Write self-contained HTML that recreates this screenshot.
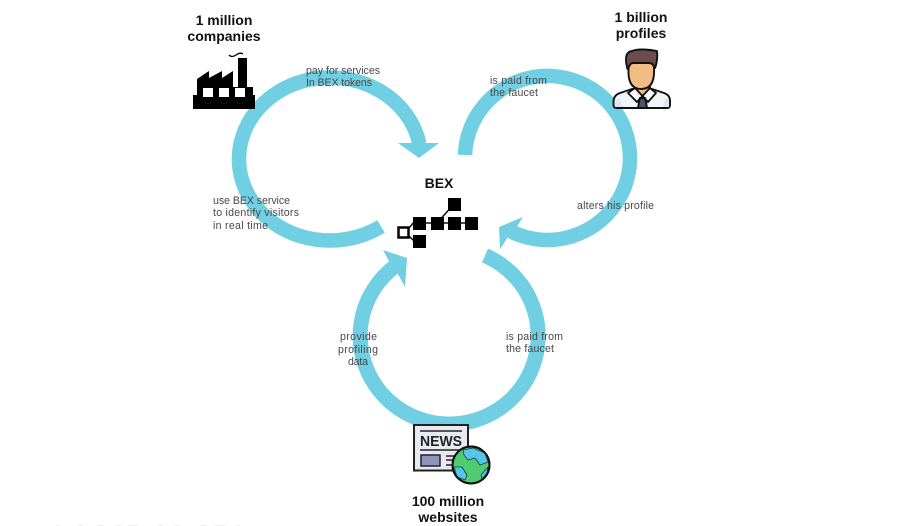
<!DOCTYPE html>
<html>
<head>
<meta charset="utf-8">
<style>
html,body{margin:0;padding:0;background:#fff;width:900px;height:526px;overflow:hidden}
svg{display:block}
text{font-family:"Liberation Sans",sans-serif}
.h{font-size:14px;font-weight:bold;fill:#111;text-anchor:middle}
.l{font-size:10.6px;fill:#484848}
.c{text-anchor:middle}
</style>
</head>
<body>
<svg width="900" height="526" viewBox="0 0 900 526" xmlns="http://www.w3.org/2000/svg">
<!-- arcs -->
<g fill="none" stroke="#70cfe2" stroke-width="14.5">
<path d="M381 226.500 A91 81.500 0 1 1 419.400 144"/>
<path d="M465 155 A82.500 82 0 1 1 511 231.500"/>
<path d="M485 255.500 A89 88 0 1 1 394 267" stroke-width="15"/>
</g>
<g fill="#70cfe2">
<polygon points="398,143 439,143 419,158"/>
<polygon points="523,217 499,227 500,249 508,237 516,228"/>
<polygon points="383,250 407,258 405,287 398,274 390,263"/>
</g>
<!-- labels -->
<text x="306" y="74" class="l" textLength="74" lengthAdjust="spacing">pay for services</text>
<text x="306" y="86" class="l" textLength="66" lengthAdjust="spacing">In BEX tokens</text>
<text x="490" y="84" class="l" textLength="57" lengthAdjust="spacing">is paid from</text>
<text x="490" y="96" class="l" textLength="48" lengthAdjust="spacing">the faucet</text>
<text x="577" y="209" class="l" textLength="77" lengthAdjust="spacing">alters his profile</text>
<text x="213" y="204" class="l" textLength="77" lengthAdjust="spacing">use BEX service</text>
<text x="213" y="216" class="l" textLength="86" lengthAdjust="spacing">to identify visitors</text>
<text x="213" y="229" class="l" textLength="55" lengthAdjust="spacing">in real time</text>
<text x="340" y="340" class="l" textLength="37" lengthAdjust="spacing">provide</text>
<text x="338" y="353" class="l" textLength="40" lengthAdjust="spacing">profiling</text>
<text x="348" y="365" class="l" textLength="20" lengthAdjust="spacing">data</text>
<text x="506" y="340" class="l" textLength="57" lengthAdjust="spacing">is paid from</text>
<text x="506" y="352" class="l" textLength="48" lengthAdjust="spacing">the faucet</text>
<!-- headings -->
<text x="224" y="25" class="h">1 million</text>
<text x="224" y="41" class="h">companies</text>
<text x="641" y="22" class="h">1 billion</text>
<text x="641" y="38" class="h">profiles</text>
<text x="439" y="188" class="h">BEX</text>
<text x="448" y="506" class="h">100 million</text>
<text x="448" y="522" class="h">websites</text>
<!-- factory -->
<g>
<path d="M193 109 V95 H197 V79 L209 71 V78 L222 71 V78 L233 71 V87 H238 V58 H247 V87 H253 V95 H255 V109 Z" fill="#000"/>
<rect x="203" y="88" width="10" height="9" fill="#fff"/>
<rect x="219" y="88" width="10" height="9" fill="#fff"/>
<rect x="235" y="88" width="10" height="9" fill="#fff"/>
<path d="M229 55 Q232 58 236 55 T243 54" fill="none" stroke="#000" stroke-width="1.300"/>
</g>
<!-- person -->
<g stroke="#111" stroke-width="1.900" stroke-linejoin="round">
<path d="M613.500 105 V101 Q614 95 620 93 L632 89 H652 L664 93 Q670 95 670 101 V105 Q670 108 667 108 H617 Q613.500 108 613.500 105 Z" fill="#f1f4f8"/>
<path d="M615 107 V101 Q617 98 620 99 L622 107 Z M663 107 L665 99 Q668 98 669 101 V107 Z" fill="#dfe6f2" stroke="none"/>
<path d="M635 84 H650 V93 L642.500 99 L635 93 Z" fill="#f2bd82" stroke-width="1.500"/>
<path d="M628 93 L635 88 L642.500 96 L637 102 Z" fill="#fff"/>
<path d="M656 93 L650 88 L642.500 96 L648 102 Z" fill="#fff"/>
<path d="M640 98 H645 L646 102 L647 108 H638 L639 102 Z" fill="#4a5568"/>
<path d="M628.500 60 H654 V74 Q653 89 641 89 Q629.500 89 628.500 74 Z" fill="#f2bd82"/>
<path d="M627.500 69 Q623 52 632 51 Q640 48 657 51 Q658 60 655 68 L653 65 Q652 63 648 63 H634 Q630 63 629.500 66 Z" fill="#6d4c4c"/>
</g>
<!-- BEX graph -->
<g>
<path d="M409 228 L414 222 M409 236 L414 241 M419 223 H472 M437 223 L454 204" stroke="#111" stroke-width="1.500" fill="none"/>
<rect x="413" y="217" width="13" height="13" fill="#000"/>
<rect x="431" y="217" width="13" height="13" fill="#000"/>
<rect x="448" y="217" width="13" height="13" fill="#000"/>
<rect x="465" y="217" width="13" height="13" fill="#000"/>
<rect x="448" y="198" width="13" height="13" fill="#000"/>
<rect x="413" y="235" width="13" height="13" fill="#000"/>
<rect x="398.500" y="227.500" width="10" height="10" fill="#fff" stroke="#000" stroke-width="2.500"/>
</g>
<!-- news -->
<g>
<rect x="414" y="425" width="54" height="45.500" fill="#e9e9f1" stroke="#222" stroke-width="2"/>
<path d="M420 431 H462 M420 450 H462 M446 456 H462 M446 460 H462 M446 465 H462" stroke="#222" stroke-width="1.500"/>
<text x="420" y="446" font-size="15" font-weight="bold" fill="#222" textLength="42" lengthAdjust="spacingAndGlyphs">NEWS</text>
<rect x="421" y="455" width="19" height="11" fill="#8d95bd" stroke="#222" stroke-width="1.500"/>
<circle cx="471" cy="465" r="18.500" fill="#4fcc72" stroke="#111" stroke-width="2"/>
<g fill="#55c6ea" stroke="#1a3a3a" stroke-width="0.800" stroke-linejoin="round">
<path d="M463 450 L473 448 L485 453 L488 462 L480 465 L475 458 L468 460 L464 455 Z"/>
<path d="M454 467 L462 467 L467 475 L465 480 L457 477 Z"/>
<path d="M488 467 L481 475 L482 479 L487 473 Z"/>
</g>
<circle cx="471" cy="465" r="18.500" fill="none" stroke="#111" stroke-width="2"/>
</g>
<!-- faint bottom fragments -->
<g fill="#eeeeee">
<rect x="56" y="525" width="4" height="1"/><rect x="78" y="525" width="5" height="1"/>
<rect x="98" y="525" width="6" height="1"/><rect x="115" y="525" width="6" height="1"/>
<rect x="128" y="525" width="10" height="1"/><rect x="158" y="525" width="5" height="1"/>
<rect x="175" y="525" width="5" height="1"/><rect x="200" y="525" width="6" height="1"/>
<rect x="215" y="525" width="10" height="1"/><rect x="236" y="525" width="4" height="1"/>
</g>
</svg>
</body>
</html>
